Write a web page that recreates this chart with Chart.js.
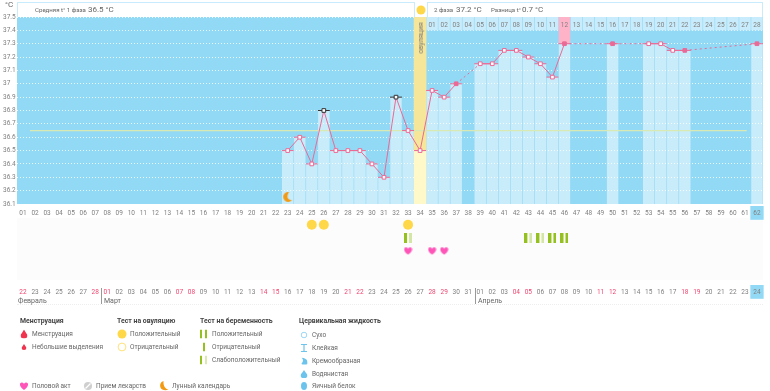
<!DOCTYPE html>
<html><head><meta charset="utf-8">
<script src="https://cdn.jsdelivr.net/npm/chart.js@4"></script>
<style>
html,body{margin:0;padding:0;background:#fff;overflow:hidden}
body{width:770px;height:391px;position:relative;font-family:Roboto,sans-serif;color:#666}
canvas{position:absolute;left:0;top:0}
.t{position:absolute;white-space:nowrap;font-size:6.5px;line-height:10px;transform:translateY(-50%);color:#666}
.b{font-weight:700;color:#444;font-size:6.9px}
.box{position:absolute;top:2px;height:15px;background:#fff;border:1px solid #c8ecfb;border-bottom:0;box-sizing:border-box}
.ic{position:absolute;transform:translate(-50%,-50%);display:block}
#band{position:absolute;left:17px;top:218px;width:746px;height:62px;background:#fcfcfc}
.div{position:absolute;top:288px;height:16px;width:1px;background:#999}
#foot{position:absolute;left:17px;top:304px;width:746px;border-top:1px dotted #eee}
</style></head>
<body>
<div id="band"></div>
<canvas id="c" width="770" height="391"></canvas>
<div class="box" style="left:17px;width:398px"></div>
<div class="box" style="left:427px;width:336px"></div>
<div id="txt"></div>
<script>
const dayNumbers = Array.from({length:62},(_,i)=>i+1);
const tempDays   = [23,24,25,26,27,28,29,30,31,32,33,34,35,36,37,39,40,41,42,43,44,45,46,50,53,54,55,56,62];
const tempValues = [36.5,36.6,36.4,36.8,36.5,36.5,36.5,36.4,36.3,36.9,36.65,36.5,36.95,36.9,37.0,37.15,37.15,37.25,37.25,37.2,37.15,37.05,37.3,37.3,37.3,37.3,37.25,37.25,37.3];
const flaggedDays = [26,32];
const filledDays  = [37,46,50,56,62];
const ovulationDay = 34;
const ovulationTemp = 36.5;
const highlightDay = 46;
const coverlineDays = [1.58,61.15];
const coverlineValue = 36.65;
const yTicks = [36.1,36.2,36.3,36.4,36.5,36.6,36.7,36.8,36.9,37,37.1,37.2,37.3,37.4,37.5];
const phaseDays = dayNumbers.slice(34);
const calendarDates = ['22','23','24','25','26','27','28','01','02','03','04','05','06','07','08','09','10','11','12','13','14','15','16','17','18','19','20','21','22','23','24','25','26','27','28','29','30','31','01','02','03','04','05','06','07','08','09','10','11','12','13','14','15','16','17','18','19','20','21','22','23','24'];
const weekendIdx = [0,6,7,13,14,20,21,27,28,34,35,41,42,48,49,55,56];
const ovulationTestDays = [25,26,33];
const pregnancyPosDays = [45,46];
const pregnancyFaintDays = [33,43,44];
const sexDays = [33,35,36];
const moonDays = [23];
const moonLevel = 36.15;

const PINK='#ea6a96', PALE='rgba(255,255,255,.5)';
const FONT='Roboto,sans-serif';
const TICK='#808080';
function mk(w,h,fn){const c=document.createElement('canvas');c.width=w;c.height=h;fn(c.getContext('2d'));return c;}
const heart=(g,s,col)=>{g.fillStyle=col;g.beginPath();g.moveTo(s/2,s*.92);g.bezierCurveTo(-s*.12,s*.5,s*.02,s*.08,s*.28,s*.1);g.bezierCurveTo(s*.4,s*.1,s*.47,s*.2,s/2,s*.28);g.bezierCurveTo(s*.53,s*.2,s*.6,s*.1,s*.72,s*.1);g.bezierCurveTo(s*.98,s*.08,s*1.12,s*.5,s/2,s*.92);g.fill();};
const heartImg=mk(9,9,g=>heart(g,9,'#ff55b8'));
const moonImg=mk(11,11,g=>{g.fillStyle='#f39a12';g.beginPath();g.arc(6,5,5,Math.PI*.4,Math.PI*1.55);g.quadraticCurveTo(2.5,8,10,8.6);g.quadraticCurveTo(8,10,6,10);g.fill();});
const testPos=mk(8,10,g=>{g.fillStyle='#94c11f';g.fillRect(0,0,3,10);g.fillRect(5,0,3,10);});
const testFaint=mk(8,10,g=>{g.fillStyle='#94c11f';g.fillRect(0,0,3,10);g.fillStyle='#d3e6a4';g.fillRect(5,0,3,10);});

const xy=(ds,fn)=>ds.map(d=>({x:d,y:fn(d)}));
const tempPts=tempDays.map((d,i)=>({x:d,y:tempValues[i]}));
const band=(d,lo,hi)=>[{x:d,y:[lo,hi]}];
const barDs=(o)=>Object.assign({type:'bar',grouped:false,categoryPercentage:1,barPercentage:1,borderWidth:0},o);
const ptDs=(o)=>Object.assign({type:'line',showLine:false,clip:false,pointHoverRadius:0},o);

const plotBg={id:'plotBg',beforeDraw(ch){const {x,y}=ch.scales,g=ch.ctx;g.save();g.fillStyle='#92d9f5';g.fillRect(x.left,y.top,x.right-x.left,y.bottom-y.top);g.restore();}};

const noGrid={display:false,drawTicks:false,tickLength:0,offset:false};
new Chart(document.getElementById('c'),{
 data:{datasets:[
  ptDs({label:'moon',data:xy(moonDays,()=>moonLevel),pointStyle:moonImg,order:1}),
  ptDs({label:'ovulation test',yAxisID:'yEvents',data:xy(ovulationTestDays,()=>1.6),pointStyle:'circle',pointRadius:5,pointBackgroundColor:'#ffd84a',pointBorderWidth:0,order:1}),
  ptDs({label:'pregnancy +',yAxisID:'yEvents',data:xy(pregnancyPosDays,()=>2.6),pointStyle:testPos,order:1}),
  ptDs({label:'pregnancy faint',yAxisID:'yEvents',data:xy(pregnancyFaintDays,()=>2.6),pointStyle:testFaint,order:1}),
  ptDs({label:'sex',yAxisID:'yEvents',data:xy(sexDays,()=>3.6),pointStyle:heartImg,order:1}),
  {type:'line',label:'temp',data:tempPts,borderColor:PINK,borderWidth:1,tension:0,order:2,
   segment:{borderDash:c=>c.p1.parsed.x-c.p0.parsed.x>1?[2,3]:undefined},
   pointStyle:'rect',pointRadius:2.6,pointBorderWidth:1,
   pointBorderColor:c=>flaggedDays.includes(c.raw&&c.raw.x)?'#333':PINK,
   pointBackgroundColor:c=>filledDays.includes(c.raw&&c.raw.x)?PINK:'#fff'},
  ptDs({label:'temp caps',data:tempPts,pointStyle:'line',pointRadius:6,pointBorderWidth:1,order:3,
   pointBorderColor:c=>flaggedDays.includes(c.raw&&c.raw.x)?'#333':PINK}),
  {type:'line',label:'coverline',data:coverlineDays.map(d=>({x:d,y:coverlineValue})),borderColor:'#d9e9b4',borderWidth:1.2,pointRadius:0,order:4},
  barDs({label:'ovulation hi',data:band(ovulationDay,ovulationTemp,37.5),backgroundColor:'#f6e69a',order:5}),
  barDs({label:'ovulation lo',data:band(ovulationDay,36.1,ovulationTemp),backgroundColor:'#fff8c8',order:5}),
  barDs({label:'highlight',data:band(highlightDay,37.3,37.5),backgroundColor:'#ffb3c9',barPercentage:.96,order:5}),
  barDs({label:'phase cells',data:phaseDays.map(d=>({x:d,y:[37.4,37.5]})),backgroundColor:'#c8ecfb',barPercentage:.95,order:6}),
  barDs({label:'temp bars',data:tempPts.filter(p=>p.x!==ovulationDay),backgroundColor:PALE,barPercentage:.95,order:7})
 ]},
 options:{
  animation:false,responsive:false,devicePixelRatio:1,
  layout:{padding:{top:17,bottom:92,left:3,right:7}},
  plugins:{legend:{display:false},tooltip:{enabled:false}},
  scales:{
   x:{type:'linear',min:.5,max:62.5,position:'bottom',offset:false,
      afterBuildTicks:s=>{s.ticks=dayNumbers.map(v=>({value:v}));},
      afterFit:s=>{s.height=19;},
      grid:noGrid,border:{display:false},
      ticks:{autoSkip:false,maxRotation:0,padding:8,font:{size:6.5,family:FONT},
       callback:(v)=>calendarDates[v-1],
       color:c=>weekendIdx.includes(c.index)?'#f0446f':TICK,
       showLabelBackdrop:c=>c.index===61,backdropColor:'#92d9f5',backdropPadding:{x:3,y:3}}},
   xDay:{type:'linear',axis:'x',min:.5,max:62.5,position:{y:36.1},offset:false,
      afterBuildTicks:s=>{s.ticks=dayNumbers.map(v=>({value:v}));},
      grid:noGrid,border:{display:false},
      ticks:{autoSkip:false,maxRotation:0,padding:5,font:{size:6.5,family:FONT},color:TICK,
       callback:v=>String(v).padStart(2,'0'),
       showLabelBackdrop:c=>c.index===61,backdropColor:'#92d9f5',backdropPadding:{x:3,y:3}}},
   xPhase:{type:'linear',axis:'x',min:.5,max:62.5,position:{y:37.5},offset:false,
      afterBuildTicks:s=>{s.ticks=phaseDays.map(v=>({value:v}));},
      grid:noGrid,border:{display:false},
      ticks:{z:1,autoSkip:false,maxRotation:0,padding:4,font:{size:6.5,family:FONT},color:TICK,
       callback:v=>String(v-34).padStart(2,'0')}},
   y:{type:'linear',min:36.1,max:37.5,stack:'main',stackWeight:187,weight:2,
      afterBuildTicks:s=>{s.ticks=yTicks.map(v=>({value:v}));},
      afterFit:s=>{s.width=14;},
      border:{display:false,dash:[1,2]},
      grid:{color:'rgba(255,255,255,.8)',lineWidth:1,tickLength:0,drawTicks:false},
      ticks:{padding:0,crossAlign:'far',font:{size:6.5,family:FONT},color:TICK,autoSkip:false,
       callback:v=>Number.isInteger(v)?String(v):v.toFixed(1)}},
   yEvents:{type:'linear',min:0,max:5.85,reverse:true,stack:'main',stackWeight:76,weight:1,
      afterFit:s=>{s.width=0;},
      border:{display:false},grid:{display:false},ticks:{display:false}}
  }
 },
 plugins:[plotBg]
});

/* text & legend */
const T=document.getElementById('txt');
function t(x,y,s,cls,st){const e=document.createElement('div');e.className='t '+(cls||'');e.style.left=x+'px';e.style.top=y+'px';e.textContent=s;if(st)e.style.cssText+=st;T.appendChild(e);}
function ic(x,y,svg){const e=document.createElement('div');e.className='ic';e.style.left=x+'px';e.style.top=y+'px';e.innerHTML=svg;T.appendChild(e);}
const S=(w,h,b)=>`<svg xmlns="http://www.w3.org/2000/svg" width="${w}" height="${h}" viewBox="0 0 ${w} ${h}" style="display:block">${b}</svg>`;
t(5,5,'°C','','font-size:8px');
t(35,10,'Средняя t° 1 фаза','','font-size:6.1px');
t(88,10,'36.5 °C','','font-size:8px');
t(434,10,'2 фаза','','font-size:6.1px');
t(456,10,'37.2 °C','','font-size:8px');
t(491,10,'Разница t°','','font-size:6.1px');
t(522,10,'0.7 °C','','font-size:8px');
ic(421,10,S(12,12,'<circle cx="6" cy="6" r="4.5" fill="#ffd84a"/>'));
{const e=document.createElement('div');e.className='t';e.textContent='овуляция';e.style.cssText+='left:421px;top:38px;font-size:7px;transform:translate(-50%,-50%) rotate(-90deg);color:#777';T.appendChild(e);}
t(18,301,'Февраль','','font-size:7px');t(104,301,'Март','','font-size:7px');t(478,301,'Апрель','','font-size:7px');
[101,475].forEach(x=>{const d=document.createElement('div');d.className='div';d.style.left=x+'px';T.appendChild(d);});
{const f=document.createElement('div');f.id='foot';T.appendChild(f);}
t(20,321,'Менструация','b');t(117,321,'Тест на овуляцию','b');t(200,321,'Тест на беременность','b');t(299,321,'Цервикальная жидкость','b');
const drop=(w,h,c)=>S(w,h,`<path d="M${w/2} 0C${w*.7} ${h*.35} ${w} ${h*.5} ${w} ${h*.68}A${w/2} ${h*.32} 0 0 1 0 ${h*.68}C0 ${h*.5} ${w*.3} ${h*.35} ${w/2} 0Z" fill="${c}"/>`);
ic(24,334,drop(7,9,'#f0334f'));t(32,334,'Менструация');
ic(24,347,drop(5,6,'#f0334f'));t(32,347,'Небольшие выделения');
ic(121.5,334,S(10,10,'<circle cx="5" cy="5" r="4.5" fill="#ffd84a"/>'));t(130,334,'Положительный');
ic(121.5,347,S(10,10,'<circle cx="5" cy="5" r="3.9" fill="#fff" stroke="#ffe27a" stroke-width="1"/>'));t(130,347,'Отрицательный');
ic(204,334,S(8,9,'<rect width="2" height="9" fill="#94c11f"/><rect x="5" width="2" height="9" fill="#94c11f"/>'));t(212,334,'Положительный');
ic(204,347,S(2,9,'<rect width="2" height="9" fill="#94c11f"/>'));t(212,347,'Отрицательный');
ic(204,360,S(8,9,'<rect width="2" height="9" fill="#94c11f"/><rect x="5" width="2" height="9" fill="#d9e9b0"/>'));t(212,360,'Слабоположительный');
ic(304,335,S(7,7,'<circle cx="3.5" cy="3.5" r="2.8" fill="#fff" stroke="#9bd6f2"/>'));t(312,335,'Сухо');
ic(304,348,S(6,8,'<path d="M0 0H6V1H3.6V7H6V8H0V7H2.4V1H0Z" fill="#6cc3ec"/>'));t(312,348,'Клейкая');
ic(304,361,S(7,7,'<path d="M1 0C4 .5 7 2 7 4.5A3 2.5 0 0 1 1 6C3 4 3 2 1 0Z" fill="#6cc3ec"/>'));t(312,361,'Кремообразная');
ic(304,374,drop(7,8,'#6cc3ec'));t(312,374,'Водянистая');
ic(304,386,S(6,8,'<ellipse cx="3" cy="4" rx="3" ry="4" fill="#6cc3ec"/>'));t(312,386,'Яичный белок');
ic(24,386,S(9,9,`<path d="M4.5 8.5C-1 4.5 0 .8 2.5 1C3.6 1 4.2 1.8 4.5 2.5C4.8 1.8 5.4 1 6.5 1C9 .8 10 4.5 4.5 8.5Z" fill="#ff55b8"/>`));t(32,386,'Половой акт');
ic(88,386,S(9,9,'<circle cx="4.5" cy="4.5" r="4" fill="#cfcfcf"/><path d="M2 7L7 2" stroke="#fff" stroke-width="1.2"/>'));t(96,386,'Прием лекарств');
ic(164,386,S(9,10,'<path d="M4 0C1 1 0 4 1 6.5C2 9 6 10 9 8.5C6 8 3.5 5 4 0Z" fill="#f39a12"/>'));t(172,386,'Лунный календарь');
</script>
</body></html>
